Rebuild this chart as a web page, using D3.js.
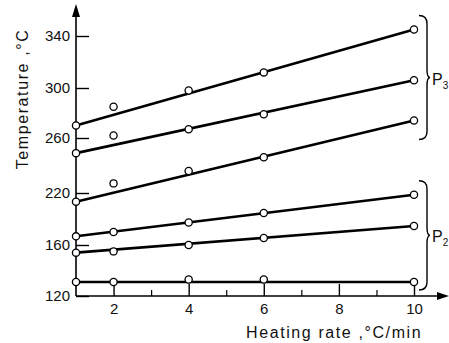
<!DOCTYPE html>
<html>
<head>
<meta charset="utf-8">
<script src="https://cdn.jsdelivr.net/npm/d3@7"></script>
<style>
  body { margin: 0; background: #fff; }
  svg { display: block; }
</style>
</head>
<body>
<svg id="chart"></svg>
<script>
// heating rate (°C/min) at which each temperature was read
const rates = [1, 2, 4, 6, 10];

// P3 group (upper three lines)
const tempA = [270, 285, 298, 312, 345];
const tempB = [249, 262, 267, 279, 306];
const tempC = [210, 227, 236, 246, 274];
// P2 group (lower three lines)
const tempD = [170, 175, 186, 197, 218];
const tempE = [154, 155, 160, 168, 182];
const tempF = [131, 131, 133, 133, 131];

const groups = [
  { label: "P", sub: "3", series: [tempA, tempB, tempC] },
  { label: "P", sub: "2", series: [tempD, tempE, tempF] }
];

const xTicks = [2, 4, 6, 8, 10];
const xMinor = [3, 5, 7, 9];
const yTicks = [120, 160, 220, 260, 300, 340];

const width = 449, height = 343;
const font = "'Liberation Sans', Arial, sans-serif";

const svg = d3.select("#chart")
  .attr("width", width)
  .attr("height", height)
  .style("background-color", "white");

let x = d3.scaleLinear().domain([1, 10]).range([76, 414]);
// the printed temperature axis is not evenly spaced, so map tick by tick
let y = d3.scaleLinear().domain(yTicks).range([296, 245, 193, 138, 88, 36]);

const x0 = x.range()[0], yBase = y(yTicks[0]);

// axes lines with arrow heads
svg.append("line")
  .attr("x1", x0).attr("x2", x0)
  .attr("y1", yBase).attr("y2", 12)
  .attr("stroke", "#000").attr("stroke-width", 1.6);
svg.append("path")
  .attr("d", `M${x0},4 L${x0 - 4},17 L${x0 + 4},17 Z`)
  .attr("fill", "#000");
svg.append("line")
  .attr("x1", x0).attr("x2", 440)
  .attr("y1", yBase).attr("y2", yBase)
  .attr("stroke", "#000").attr("stroke-width", 1.6);
svg.append("path")
  .attr("d", `M449,${yBase} L437,${yBase - 4} L437,${yBase + 4} Z`)
  .attr("fill", "#000");

// y axis ticks + labels
let yAxis = svg.append("g")
  .attr("transform", `translate(${x0},0)`)
  .call(d3.axisLeft(y).tickValues(yTicks).tickSize(-13).tickPadding(6));
yAxis.select(".domain").remove();
yAxis.selectAll("line").attr("stroke-width", 1.4);
yAxis.selectAll("text")
  .attr("font-family", font).attr("font-size", 15).attr("fill", "#111");

// x axis ticks + labels
let xAxis = svg.append("g")
  .attr("transform", `translate(0,${yBase})`)
  .call(d3.axisBottom(x).tickValues(xTicks).tickSize(-12).tickPadding(7));
xAxis.select(".domain").remove();
xAxis.selectAll("line").attr("stroke-width", 1.4);
xAxis.selectAll("text")
  .attr("font-family", font).attr("font-size", 15).attr("fill", "#111");

let xMinorAxis = svg.append("g")
  .attr("transform", `translate(0,${yBase})`)
  .call(d3.axisBottom(x).tickValues(xMinor).tickSize(-6).tickFormat(""));
xMinorAxis.select(".domain").remove();
xMinorAxis.selectAll("line").attr("stroke-width", 1.2);

// axis titles
svg.append("text")
  .attr("x", 246).attr("y", 338)
  .attr("font-family", font).attr("font-size", 16)
  .attr("letter-spacing", 1.6).attr("fill", "#111")
  .text("Heating rate ,°C/min");

svg.append("text")
  .attr("transform", "translate(28,99) rotate(-90)")
  .attr("text-anchor", "middle")
  .attr("font-family", font).attr("font-size", 16)
  .attr("letter-spacing", 1.6).attr("fill", "#111")
  .text("Temperature ,°C");

// fitted straight lines, from first to last reading
const allSeries = groups.flatMap(g => g.series);
let line = d3.line().x(d => x(d[0])).y(d => y(d[1]));

svg.selectAll(".fit")
  .data(allSeries)
  .enter().append("path")
  .attr("class", "fit")
  .attr("fill", "none")
  .attr("stroke", "#000")
  .attr("stroke-width", 2.6)
  .attr("d", s => line([[rates[0], s[0]], [rates[rates.length - 1], s[s.length - 1]]]));

// measured points
allSeries.forEach(s => {
  svg.selectAll(null)
    .data(s.map((v, i) => [rates[i], v]))
    .enter().append("circle")
    .attr("cx", d => x(d[0]))
    .attr("cy", d => y(d[1]))
    .attr("r", 3.6)
    .attr("fill", "white")
    .attr("stroke", "#000")
    .attr("stroke-width", 1.3);
});

// curly braces grouping the lines
function brace(bx, top, bot, w, tip) {
  let mid = (top + bot) / 2, r = 8;
  return `M${bx},${top} Q${bx + w},${top} ${bx + w},${top + r} ` +
    `L${bx + w},${mid - r} Q${bx + w},${mid} ${bx + w + tip},${mid} ` +
    `Q${bx + w},${mid} ${bx + w},${mid + r} ` +
    `L${bx + w},${bot - r} Q${bx + w},${bot} ${bx},${bot}`;
}

groups.forEach(g => {
  let ends = g.series.map(s => y(s[s.length - 1]));
  let top = d3.min(ends) - 14;
  let bot = Math.min(d3.max(ends) + 19, yBase - 6);
  let bx = x(10) + 5;
  svg.append("path")
    .attr("d", brace(bx, top, bot, 8, 3))
    .attr("fill", "none")
    .attr("stroke", "#000")
    .attr("stroke-width", 1.4);
  let t = svg.append("text")
    .attr("x", bx + 13).attr("y", (top + bot) / 2 + 7)
    .attr("font-family", font).attr("font-size", 16).attr("fill", "#111")
    .text(g.label);
  t.append("tspan").attr("font-size", 10).attr("dy", 4).text(g.sub);
});
</script>
</body>
</html>
